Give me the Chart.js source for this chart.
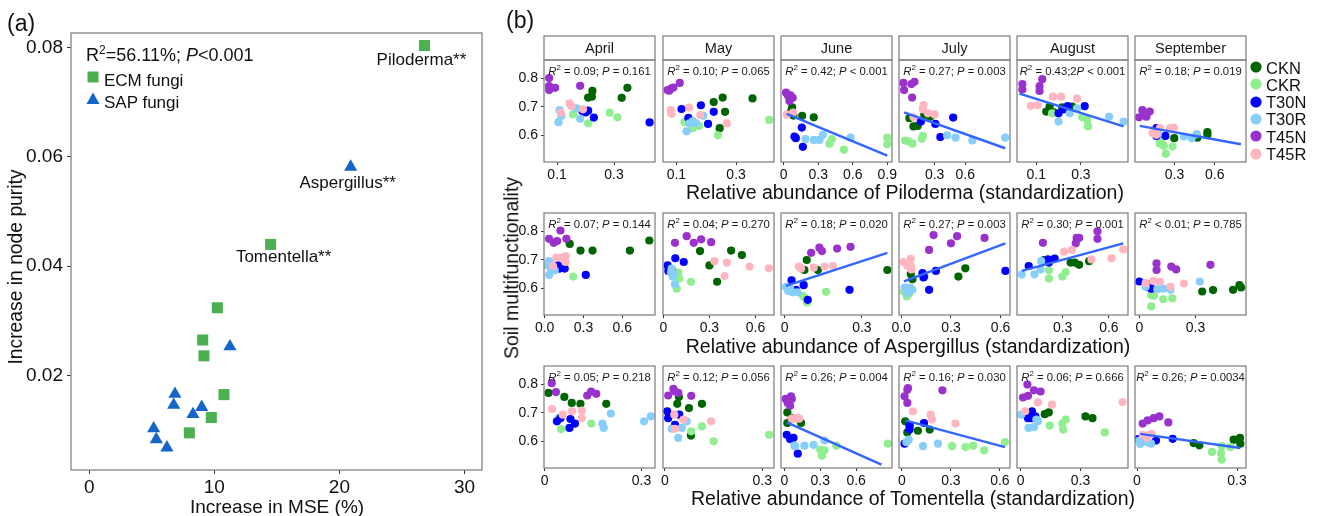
<!DOCTYPE html>
<html><head><meta charset="utf-8">
<script src="https://cdn.jsdelivr.net/npm/chart.js@4.4.1/dist/chart.umd.min.js"></script>
<style>
body{margin:0;width:1319px;height:516px;position:relative;background:#fff;font-family:"Liberation Sans",Arial,sans-serif;overflow:hidden}
canvas{position:absolute}
.t{position:absolute;white-space:nowrap;color:#111;line-height:1;z-index:5}
.c{transform:translate(-50%,-50%)}
.r{transform:translate(-50%,-50%) rotate(-90deg)}
</style></head><body>
<script>
// ---------------- Panel (a) data ----------------
const ecmMSE    = [26.8, 14.5, 10.24, 9.07, 9.17, 10.77, 9.76, 8.0];
const ecmPurity = [0.0804, 0.044, 0.0324, 0.0265, 0.0236, 0.0165, 0.0123, 0.0095];
const sapMSE    = [20.9, 11.25, 6.85, 6.75, 8.99, 8.29, 5.15, 5.36, 6.21];
const sapPurity = [0.0582, 0.0253, 0.0166, 0.0146, 0.0142, 0.0129, 0.0103, 0.0083, 0.0068];
const genusLabels = [['ecm',0,'Piloderma**'],['sap',0,'Aspergillus**'],['ecm',1,'Tomentella**']];
const aXTicks = [0,10,20,30];
const aYTicks = [0.02,0.04,0.06,0.08];

// ---------------- Panel (b) data ----------------
const groups = ['CKN','CKR','T30N','T30R','T45N','T45R'];
const months = ['April','May','June','July','August','September'];
const genera = ['Piloderma','Aspergillus','Tomentella'];
const yTicksB = [0.6,0.7,0.8];

// each facet: [CKN, CKR, T30N, T30R, T45N, T45R] as [x, y] pairs
const pilApr = [
 [[0.224,0.755],[0.209,0.732],[0.222,0.735],[0.347,0.766],[0.327,0.731]],
 [[0.156,0.673],[0.209,0.642],[0.285,0.679],[0.312,0.663]],
 [[0.189,0.685],[0.209,0.686],[0.229,0.662],[0.425,0.645],[0.2,0.68]],
 [[0.109,0.688],[0.105,0.646],[0.115,0.668],[0.181,0.658],[0.168,0.694]],
 [[0.072,0.80],[0.072,0.772],[0.072,0.758],[0.093,0.766],[0.181,0.773]],
 [[0.144,0.712],[0.15,0.702],[0.113,0.679],[0.191,0.691]]];
const pilMay = [
 [[0.225,0.716],[0.255,0.732],[0.263,0.682],[0.245,0.625],[0.355,0.729]],
 [[0.127,0.646],[0.154,0.625],[0.176,0.633],[0.239,0.6],[0.411,0.654]],
 [[0.117,0.692],[0.14,0.661],[0.182,0.705],[0.206,0.64],[0.225,0.682]],
 [[0.134,0.614],[0.143,0.642],[0.165,0.642],[0.19,0.668],[0.155,0.65]],
 [[0.07,0.758],[0.083,0.764],[0.09,0.767],[0.111,0.783],[0.076,0.756]],
 [[0.081,0.688],[0.083,0.675],[0.143,0.697],[0.18,0.671],[0.269,0.642]]];
const pilJun = [
 [[0.073,0.698],[0.084,0.669],[0.16,0.668],[0.261,0.663],[0.064,0.684]],
 [[0.398,0.571],[0.418,0.587],[0.523,0.55],[0.9,0.592],[0.9,0.569]],
 [[0.157,0.627],[0.093,0.596],[0.105,0.59],[0.166,0.56]],
 [[0.189,0.587],[0.261,0.584],[0.311,0.584],[0.34,0.602],[0.581,0.592]],
 [[0.02,0.749],[0.058,0.74],[0.078,0.731],[0.049,0.72],[0.035,0.74]],
 [[0.026,0.672],[0.081,0.679]]];
const pilJul = [
 [[0.052,0.66],[0.092,0.631],[0.132,0.633],[0.198,0.671],[0.257,0.665]],
 [[0.01,0.582],[0.082,0.571],[0.175,0.588],[0.184,0.598],[0.043,0.579]],
 [[0.165,0.648],[0.307,0.64],[0.356,0.594],[0.482,0.662]],
 [[0.422,0.6],[0.505,0.592],[0.67,0.582],[0.993,0.592]],
 [[-0.007,0.783],[0,0.758],[0.072,0.779],[0.102,0.787],[0.079,0.732]],
 [[0.191,0.706],[0.184,0.691],[0.234,0.677],[0.3,0.673],[0.092,0.663]]];
const pilAug = [
 [[0.145,0.683],[0.16,0.7],[0.178,0.68],[0.216,0.698],[0.261,0.7]],
 [[0.171,0.677],[0.306,0.663],[0.329,0.654],[0.332,0.631]],
 [[0.2,0.677],[0.223,0.691],[0.241,0.702],[0.317,0.702]],
 [[0.2,0.648],[0.25,0.677],[0.283,0.694],[0.426,0.665],[0.491,0.648]],
 [[0.038,0.779],[0.038,0.76],[0.115,0.772],[0.115,0.755],[0.127,0.796]],
 [[0.076,0.703],[0.106,0.705],[0.175,0.735],[0.211,0.735],[0.283,0.728]]];
const pilSep = [
 [[0.298,0.59],[0.47,0.592],[0.545,0.611],[0.545,0.602]],
 [[0.2,0.582],[0.22,0.564],[0.235,0.536],[0.285,0.561],[0.19,0.572]],
 [[0.165,0.625],[0.165,0.598],[0.232,0.598]],
 [[0.37,0.596],[0.428,0.59],[0.465,0.604],[0.178,0.608]],
 [[0.035,0.663],[0.06,0.688],[0.085,0.675],[0.115,0.683],[0.09,0.665]],
 [[0.135,0.608],[0.19,0.625],[0.265,0.625],[0.295,0.627],[0.165,0.602]]];

const aspApr = [
 [[0.194,0.755],[0.277,0.732],[0.37,0.732],[0.659,0.732],[0.809,0.767]],
 [[0.22,0.641],[0.05,0.682]],
 [[0.116,0.669],[0.155,0.669],[0.318,0.647],[0.103,0.68]],
 [[0.034,0.695],[0.034,0.647],[0.052,0.666],[0.078,0.663],[0.026,0.68]],
 [[0.034,0.773],[0.07,0.759],[0.096,0.765],[0.122,0.802],[0.168,0.773]],
 [[0.065,0.678],[0.09,0.707],[0.129,0.707],[0.163,0.692],[0.163,0.713]]];
const aspMay = [
 [[0.239,0.73],[0.3,0.68],[0.35,0.623],[0.441,0.732],[0.511,0.716]],
 [[0.087,0.599],[0.104,0.634],[0.18,0.623],[0.098,0.655]],
 [[0.028,0.68],[0.033,0.661],[0.078,0.705],[0.133,0.692],[0.054,0.666]],
 [[0.054,0.669],[0.061,0.641],[0.076,0.614],[0.067,0.65],[0.05,0.656]],
 [[0.076,0.759],[0.152,0.782],[0.198,0.759],[0.246,0.771],[0.311,0.761]],
 [[0.333,0.695],[0.413,0.69],[0.398,0.643],[0.561,0.676],[0.687,0.67]]];
const aspJun = [
 [[0.086,0.699],[0.077,0.664],[0.129,0.664],[0.399,0.664]],
 [[0.07,0.574],[0.087,0.551],[0.161,0.588],[0.077,0.568]],
 [[0.027,0.628],[0.074,0.611],[0.09,0.56],[0.252,0.595],[0.044,0.595]],
 [[0.005,0.605],[0.014,0.591],[0.031,0.586],[0.05,0.586],[0.022,0.598]],
 [[0.103,0.724],[0.135,0.742],[0.145,0.73],[0.204,0.739],[0.256,0.745]],
 [[0.055,0.676],[0.064,0.669],[0.113,0.672],[0.155,0.676],[0.188,0.678]]];
const aspJul = [
 [[0.067,0.632],[0.138,0.641],[0.345,0.641],[0.387,0.67],[0.057,0.65]],
 [[0.016,0.588],[0.033,0.572],[0.047,0.58]],
 [[0.128,0.653],[0.134,0.638],[0.168,0.595],[0.209,0.661],[0.629,0.661]],
 [[0.02,0.603],[0.037,0.591],[0.067,0.595],[0.033,0.583],[0.053,0.603]],
 [[0.195,0.786],[0.168,0.734],[0.3,0.757],[0.337,0.782],[0.503,0.776]],
 [[0.012,0.692],[0.057,0.703],[0.057,0.678],[0.061,0.666],[0.037,0.678]]];
const aspAug = [
 [[0.178,0.699],[0.352,0.69],[0.378,0.69],[0.407,0.682],[0.472,0.695]],
 [[0.211,0.663],[0.211,0.634],[0.298,0.641],[0.32,0.657]],
 [[0.08,0.678],[0.204,0.701],[0.248,0.704],[0.211,0.69]],
 [[0.035,0.648],[0.117,0.649],[0.161,0.695],[0.157,0.666]],
 [[0.172,0.759],[0.391,0.776],[0.407,0.776],[0.526,0.799],[0.526,0.773],[0.385,0.757]],
 [[0.309,0.728],[0.359,0.734],[0.487,0.701],[0.617,0.705],[0.693,0.736]]];
const aspSep = [
 [[0.336,0.589],[0.394,0.594],[0.501,0.595],[0.535,0.611],[0.544,0.603]],
 [[0.064,0.537],[0.064,0.576],[0.128,0.562],[0.176,0.565],[0.078,0.574]],
 [[0,0.624],[0.043,0.606],[0.064,0.599],[0.052,0.614]],
 [[0.034,0.606],[0.096,0.597],[0.128,0.599],[0.167,0.595],[0.323,0.624]],
 [[0.092,0.687],[0.092,0.664],[0.171,0.676],[0.197,0.666],[0.38,0.682]],
 [[0.034,0.618],[0.075,0.626],[0.11,0.623],[0.167,0.606],[0.238,0.617]]];

const tomApr = [
 [[0.012,0.769],[0.061,0.755],[0.084,0.734],[0.111,0.731],[0.191,0.731]],
 [[0.051,0.643],[0.144,0.662],[0.043,0.681]],
 [[0.038,0.67],[0.049,0.681],[0.077,0.647],[0.08,0.678],[0.094,0.662]],
 [[0.179,0.662],[0.183,0.647],[0.205,0.697],[0.308,0.67],[0.329,0.687]],
 [[0.022,0.803],[0.035,0.772],[0.132,0.76],[0.144,0.774],[0.16,0.766]],
 [[0.023,0.713],[0.056,0.693],[0.085,0.705],[0.115,0.707],[0.115,0.681]]];
const tomMay = [
 [[0.038,0.731],[0.074,0.716],[0.114,0.731],[0.08,0.62],[0.043,0.755]],
 [[0.081,0.635],[0.114,0.652],[0.15,0.6],[0.321,0.623]],
 [[0.007,0.705],[0.01,0.681],[0.031,0.658],[0.044,0.693]],
 [[0.021,0.644],[0.041,0.612],[0.052,0.647],[0.067,0.67]],
 [[0.01,0.76],[0.026,0.783],[0.041,0.769],[0.081,0.759],[0.031,0.774]],
 [[0.029,0.693],[0.031,0.644],[0.057,0.676],[0.142,0.67]]];
const tomJun = [
 [[0.025,0.701],[0.025,0.664],[0.14,0.664],[0.062,0.681]],
 [[0.3,0.571],[0.314,0.55],[0.336,0.569],[0.434,0.585],[0.866,0.592]],
 [[0.02,0.623],[0.048,0.608],[0.076,0.612],[0.112,0.557]],
 [[0.084,0.585],[0.168,0.585],[0.244,0.588],[0.336,0.603],[0.09,0.583]],
 [[0.011,0.748],[0.056,0.757],[0.028,0.734],[0.048,0.724],[0.062,0.748]],
 [[0.062,0.679],[0.09,0.679],[0.123,0.679],[0.104,0.683]]];
const tomJul = [
 [[0.02,0.67],[0.033,0.631],[0.098,0.637],[0.17,0.641],[0.047,0.652]],
 [[0.307,0.583],[0.389,0.58],[0.436,0.585],[0.504,0.569],[0.631,0.597]],
 [[0.016,0.592],[0.047,0.655],[0.047,0.641],[0.135,0.664]],
 [[0.027,0.597],[0.041,0.606],[0.129,0.583],[0.221,0.592]],
 [[0.037,0.786],[0.016,0.757],[0.033,0.734],[0.248,0.778],[0.033,0.78]],
 [[0.068,0.705],[0.176,0.693],[0.184,0.676],[0.328,0.662]]];
const tomAug = [
 [[0.121,0.695],[0.141,0.701],[0.325,0.687],[0.36,0.681]],
 [[0.146,0.655],[0.209,0.662],[0.226,0.676],[0.213,0.641],[0.422,0.631]],
 [[0.037,0.697],[0.057,0.705],[0.074,0.687],[0.054,0.681],[0.037,0.681]],
 [[0.003,0.693],[0.04,0.647],[0.067,0.65],[0.079,0.676],[0.087,0.67]],
 [[0.012,0.753],[0.037,0.759],[0.034,0.798],[0.067,0.778],[0.1,0.774]],
 [[0.023,0.705],[0.087,0.736],[0.157,0.728],[0.511,0.737]]];
const tomSep = [
 [[0.17,0.594],[0.187,0.586],[0.29,0.606],[0.309,0.612],[0.31,0.592]],
 [[0.225,0.563],[0.252,0.559],[0.254,0.536],[0.28,0.58],[0.254,0.583]],
 [[0.004,0.608],[0.022,0.603],[0.057,0.603],[0.107,0.609]],
 [[0.01,0.591],[0.032,0.597],[0.007,0.603],[0.042,0.592]],
 [[0.017,0.662],[0.032,0.673],[0.05,0.681],[0.067,0.687],[0.094,0.666]],
 [[0.017,0.623],[0.029,0.612],[0.035,0.621],[0.044,0.626]]];

// fitted lines [x0, y0, x1, y1] (null = no line)
const fitPil = [null, null, [0.026,0.675,0.9,0.529], [0,0.68,0.993,0.555], [0.025,0.746,0.491,0.631], [0.04,0.633,0.795,0.569]];
const fitAsp = [null, null, [0.005,0.609,0.399,0.724], [0.016,0.624,0.629,0.757], [0.035,0.661,0.693,0.757], null];
const fitTom = [null, null, [0.02,0.666,0.812,0.519], [0.02,0.673,0.631,0.58], null, [0.01,0.626,0.31,0.577]];

const statsPil = ['R^2 = 0.09; P = 0.161','R^2 = 0.10; P = 0.065','R^2 = 0.42; P < 0.001','R^2 = 0.27; P = 0.003','R^2 = 0.43;2P < 0.001','R^2 = 0.18; P = 0.019'];
const statsAsp = ['R^2 = 0.07; P = 0.144','R^2 = 0.04; P = 0.270','R^2 = 0.18; P = 0.020','R^2 = 0.27; P = 0.003','R^2 = 0.30; P = 0.001','R^2 < 0.01; P = 0.785'];
const statsTom = ['R^2 = 0.05; P = 0.218','R^2 = 0.12; P = 0.056','R^2 = 0.26; P = 0.004','R^2 = 0.16; P = 0.030','R^2 = 0.06; P = 0.666','R^2 = 0.26; P = 0.0034'];

const xTicksPil = [[0.1,0.3],[0.1,0.3],[0,0.3,0.6,0.9],[0.3,0.6],[0.1,0.3],[0.3,0.6]];
const xLabelsPil = [['0.1','0.3'],['0.1','0.3'],['0','0.3','0.6','0.9'],['0.3','0.6'],['0.1','0.3'],['0.3','0.6']];
const xTicksAsp = [[0,0.3,0.6],[0,0.3,0.6],[0,0.3],[0,0.3,0.6],[0.3,0.6],[0,0.3]];
const xLabelsAsp = [['0.0','0.3','0.6'],['0','0.3','0.6'],['0','0.3'],['0.0','0.3','0.6'],['0.3','0.6'],['0','0.3']];
const xTicksTom = [[0,0.3],[0,0.3],[0,0.3,0.6],[0,0.3,0.6],[0,0.3],[0,0.3]];
const xLabelsTom = [['0','0.3'],['0','0.3'],['0','0.3','0.6'],['0','0.3','0.6'],['0','0.3'],['0','0.3']];
</script>
<script>
// ---------------- configuration (layout / styles) ----------------
const FONT = '"Liberation Sans", Arial, sans-serif';
Chart.defaults.font.family = FONT;
Chart.defaults.color = '#111';
const groupColors = ['#006400','#90EE90','#0000FF','#87CEFA','#9932CC','#FFB6C1'];
const xRangePil = [[0.054,0.444],[0.055,0.427],[-0.024,0.941],[-0.05,1.04],[0.014,0.511],[0.005,0.833]];
const xRangeAsp = [[-0.005,0.853],[-0.002,0.72],[-0.014,0.417],[-0.014,0.657],[0.004,0.724],[-0.023,0.57]];
const xRangeTom = [[-0.002,0.342],[-0.006,0.336],[-0.028,0.9],[-0.018,0.662],[-0.018,0.538],[-0.006,0.327]];
const yRangeB = [0.507, 0.863];

const facetData = [[pilApr,pilMay,pilJun,pilJul,pilAug,pilSep],[aspApr,aspMay,aspJun,aspJul,aspAug,aspSep],[tomApr,tomMay,tomJun,tomJul,tomAug,tomSep]];
const fits = [fitPil, fitAsp, fitTom];
const stats = [statsPil, statsAsp, statsTom];
const xTicks = [xTicksPil, xTicksAsp, xTicksTom];
const xLabels = [xLabelsPil, xLabelsAsp, xLabelsTom];
const xRanges = [xRangePil, xRangeAsp, xRangeTom];

function makeCanvas(l, t, w, h) {
  const c = document.createElement('canvas');
  c.width = w; c.height = h;
  c.style.left = l + 'px'; c.style.top = t + 'px';
  c.style.width = w + 'px'; c.style.height = h + 'px';
  document.body.appendChild(c);
  return c;
}
function addText(html, style, cls) {
  const d = document.createElement('div');
  d.className = 't' + (cls ? ' ' + cls : '');
  d.style.cssText = style;
  d.innerHTML = html;
  document.body.appendChild(d);
  return d;
}

function drawStat(ctx, s, cx, cy) {
  const rest = s.slice(3);
  const p = rest.indexOf('P');
  const n = '11.3px ' + FONT, it = 'italic 11.3px ' + FONT, sup = '8px ' + FONT;
  const parts = [
    {t:'R', f:it, dy:0}, {t:'2', f:sup, dy:-4.5},
    {t:rest.slice(0,p), f:n, dy:0}, {t:'P', f:it, dy:0}, {t:rest.slice(p+1), f:n, dy:0}];
  let w = 0;
  parts.forEach(q => { ctx.font = q.f; q.w = ctx.measureText(q.t).width; w += q.w; });
  let x = cx - w / 2;
  ctx.fillStyle = '#1a1a1a'; ctx.textAlign = 'left'; ctx.textBaseline = 'middle';
  parts.forEach(q => { ctx.font = q.f; ctx.fillText(q.t, x, cy + q.dy); x += q.w; });
}

const facetPlugin = {
  id: 'facet',
  afterDraw(chart, args, o) {
    const ctx = chart.ctx, a = chart.chartArea;
    ctx.save();
    ctx.strokeStyle = '#858585'; ctx.lineWidth = 1.3;
    if (o.strip) {
      ctx.fillStyle = '#fff';
      ctx.fillRect(a.left, a.top - 24, a.right - a.left, 24);
      ctx.strokeRect(a.left, a.top - 24, a.right - a.left, 24);
      ctx.fillStyle = '#1a1a1a'; ctx.font = '14.5px ' + FONT;
      ctx.textAlign = 'center'; ctx.textBaseline = 'middle';
      ctx.fillText(o.strip, (a.left + a.right) / 2, a.top - 11.5);
    }
    ctx.strokeRect(a.left, a.top, a.right - a.left, a.bottom - a.top);
    if (o.stat) drawStat(ctx, o.stat, (a.left + a.right) / 2, a.top + 12);
    ctx.restore();
  }
};

function axisCfg(min, max, ticks, labels, fs, tl, pad, fitFn, display) {
  return {
    type: 'linear', min, max, display,
    afterBuildTicks: s => { s.ticks = ticks.map(v => ({value: v})); },
    afterFit: fitFn,
    ticks: {autoSkip: false, maxRotation: 0, minRotation: 0, padding: pad, color: '#111',
            font: {size: fs}, callback: (v, i) => labels[i]},
    grid: {display: true, drawOnChartArea: false, drawTicks: true, tickLength: tl, color: '#333', lineWidth: 1},
    border: {display: false}
  };
}

// ---------------- Panel (a) ----------------
(function () {
  const cv = makeCanvas(0, 0, 500, 516);
  const labelPlugin = {
    id: 'alabels',
    afterDraw(chart) {
      const ctx = chart.ctx, a = chart.chartArea, xs = chart.scales.x, ys = chart.scales.y;
      ctx.save();
      ctx.strokeStyle = '#858585'; ctx.lineWidth = 1.3;
      ctx.strokeRect(a.left, a.top, a.right - a.left, a.bottom - a.top);
      const offs = {'Piloderma**': [-3, 15], 'Aspergillus**': [-3, 16], 'Tomentella**': [13, 12.5]};
      ctx.font = '17px ' + FONT; ctx.fillStyle = '#111'; ctx.textAlign = 'center'; ctx.textBaseline = 'middle';
      genusLabels.forEach(([g, i, txt]) => {
        const x = g === 'ecm' ? ecmMSE[i] : sapMSE[i];
        const y = g === 'ecm' ? ecmPurity[i] : sapPurity[i];
        const o = offs[txt];
        ctx.fillText(txt, xs.getPixelForValue(x) + o[0], ys.getPixelForValue(y) + o[1]);
      });
      ctx.restore();
    }
  };
  new Chart(cv, {
    type: 'scatter',
    data: {datasets: [
      {label: 'ECM fungi', data: ecmMSE.map((x, i) => ({x, y: ecmPurity[i]})), pointStyle: 'rect',
       pointRadius: 7.8, backgroundColor: '#4CAF50', borderColor: '#4CAF50', borderWidth: 0, order: 2},
      {label: 'SAP fungi', data: sapMSE.map((x, i) => ({x, y: sapPurity[i]})), pointStyle: 'triangle',
       pointRadius: 7.6, backgroundColor: '#1565C8', borderColor: '#1565C8', borderWidth: 0, order: 1}
    ]},
    options: {
      responsive: false, animation: false, devicePixelRatio: 1, events: [],
      layout: {padding: {left: 0, top: 33, right: 18, bottom: 0}},
      plugins: {legend: {display: false}, tooltip: {enabled: false}},
      scales: {
        x: axisCfg(-1.46, 31.4, aXTicks, aXTicks.map(String), 19, 4, 2, s => { s.height = 46; }, true),
        y: axisCfg(0.0027, 0.0827, aYTicks, aYTicks.map(v => v.toFixed(2)), 19, 4, 4, s => { s.width = 71; }, true)
      }
    },
    plugins: [labelPlugin]
  });
})();

addText('(a)', 'left:7px;top:12px;font-size:23px');
addText('R<sup style="font-size:12px;vertical-align:7px">2</sup>=56.11%; <i>P</i>&lt;0.001', 'left:86px;top:44px;font-size:18px');
addText('<svg width="12" height="12" style="position:absolute;left:-17px;top:-1px"><rect x="0.5" y="0.5" width="11" height="11" fill="#4CAF50"/></svg>ECM fungi', 'left:104px;top:72px;font-size:17px');
addText('<svg width="14" height="13" style="position:absolute;left:-18px;top:-2px"><polygon points="7,0.5 13.5,12 0.5,12" fill="#1565C8"/></svg>SAP fungi', 'left:104px;top:94px;font-size:17px');
addText('Increase in node purity', 'left:16px;top:267px;font-size:19.3px', 'r');
addText('Increase in MSE (%)', 'left:277px;top:506px;font-size:19px', 'c');

// ---------------- Panel (b) facets ----------------
const panelTops = [60, 213, 366];
const PH = 102, PW = 111, PADL = 45, PADT = 26, PADR = 16, XH = 24;
for (let r = 0; r < 3; r++) {
  for (let c = 0; c < 6; c++) {
    const pl = Math.round(544.3 + c * 118.2), pt = panelTops[r];
    const cv = makeCanvas(pl - PADL, pt - PADT, PADL + PW + PADR, PADT + PH + XH);
    const d = facetData[r][c];
    const ds = d.map((pts, g) => ({
      type: 'scatter', label: groups[g], data: pts.map(p => ({x: p[0], y: p[1]})),
      pointRadius: 4.1, pointStyle: 'circle', backgroundColor: groupColors[g], borderWidth: 0, order: 6 - g
    }));
    const f = fits[r][c];
    if (f) ds.push({type: 'line', data: [{x: f[0], y: f[1]}, {x: f[2], y: f[3]}], borderColor: '#3366FF',
                    borderWidth: 2.4, pointRadius: 0, fill: false, showLine: true, order: 0});
    const xr = xRanges[r][c];
    new Chart(cv, {
      type: 'scatter',
      data: {datasets: ds},
      options: {
        responsive: false, animation: false, devicePixelRatio: 1, events: [],
        layout: {padding: {left: c === 0 ? 0 : PADL, top: PADT, right: PADR, bottom: 0}},
        plugins: {legend: {display: false}, tooltip: {enabled: false},
                  facet: {strip: r === 0 ? months[c] : null, stat: stats[r][c]}},
        scales: {
          x: axisCfg(xr[0], xr[1], xTicks[r][c], xLabels[r][c], 14, 3, 2, s => { s.height = XH; }, true),
          y: axisCfg(yRangeB[0], yRangeB[1], yTicksB, yTicksB.map(v => v.toFixed(1)), 14, 3, 3,
                     s => { s.width = c === 0 ? PADL : 0; }, c === 0)
        }
      },
      plugins: [facetPlugin]
    });
  }
}

addText('(b)', 'left:506px;top:9px;font-size:23px');
addText('Soil multifunctionality', 'left:512px;top:268px;font-size:19.5px', 'r');
const rowTitleY = [193, 347, 499], rowTitleX = [905, 908, 913];
genera.forEach((g, i) => addText('Relative abundance of ' + g + ' (standardization)',
  'left:' + rowTitleX[i] + 'px;top:' + rowTitleY[i] + 'px;font-size:19.5px', 'c'));
groups.forEach((g, i) => {
  const y = 68 + i * 17.3;
  addText('<svg width="12" height="12" style="position:absolute;left:-16px;top:1.5px"><circle cx="6" cy="6" r="5.6" fill="' + groupColors[i] + '"/></svg>' + g,
    'left:1266px;top:' + (y - 8.5) + 'px;font-size:16.5px');
});
</script>
</body></html>
